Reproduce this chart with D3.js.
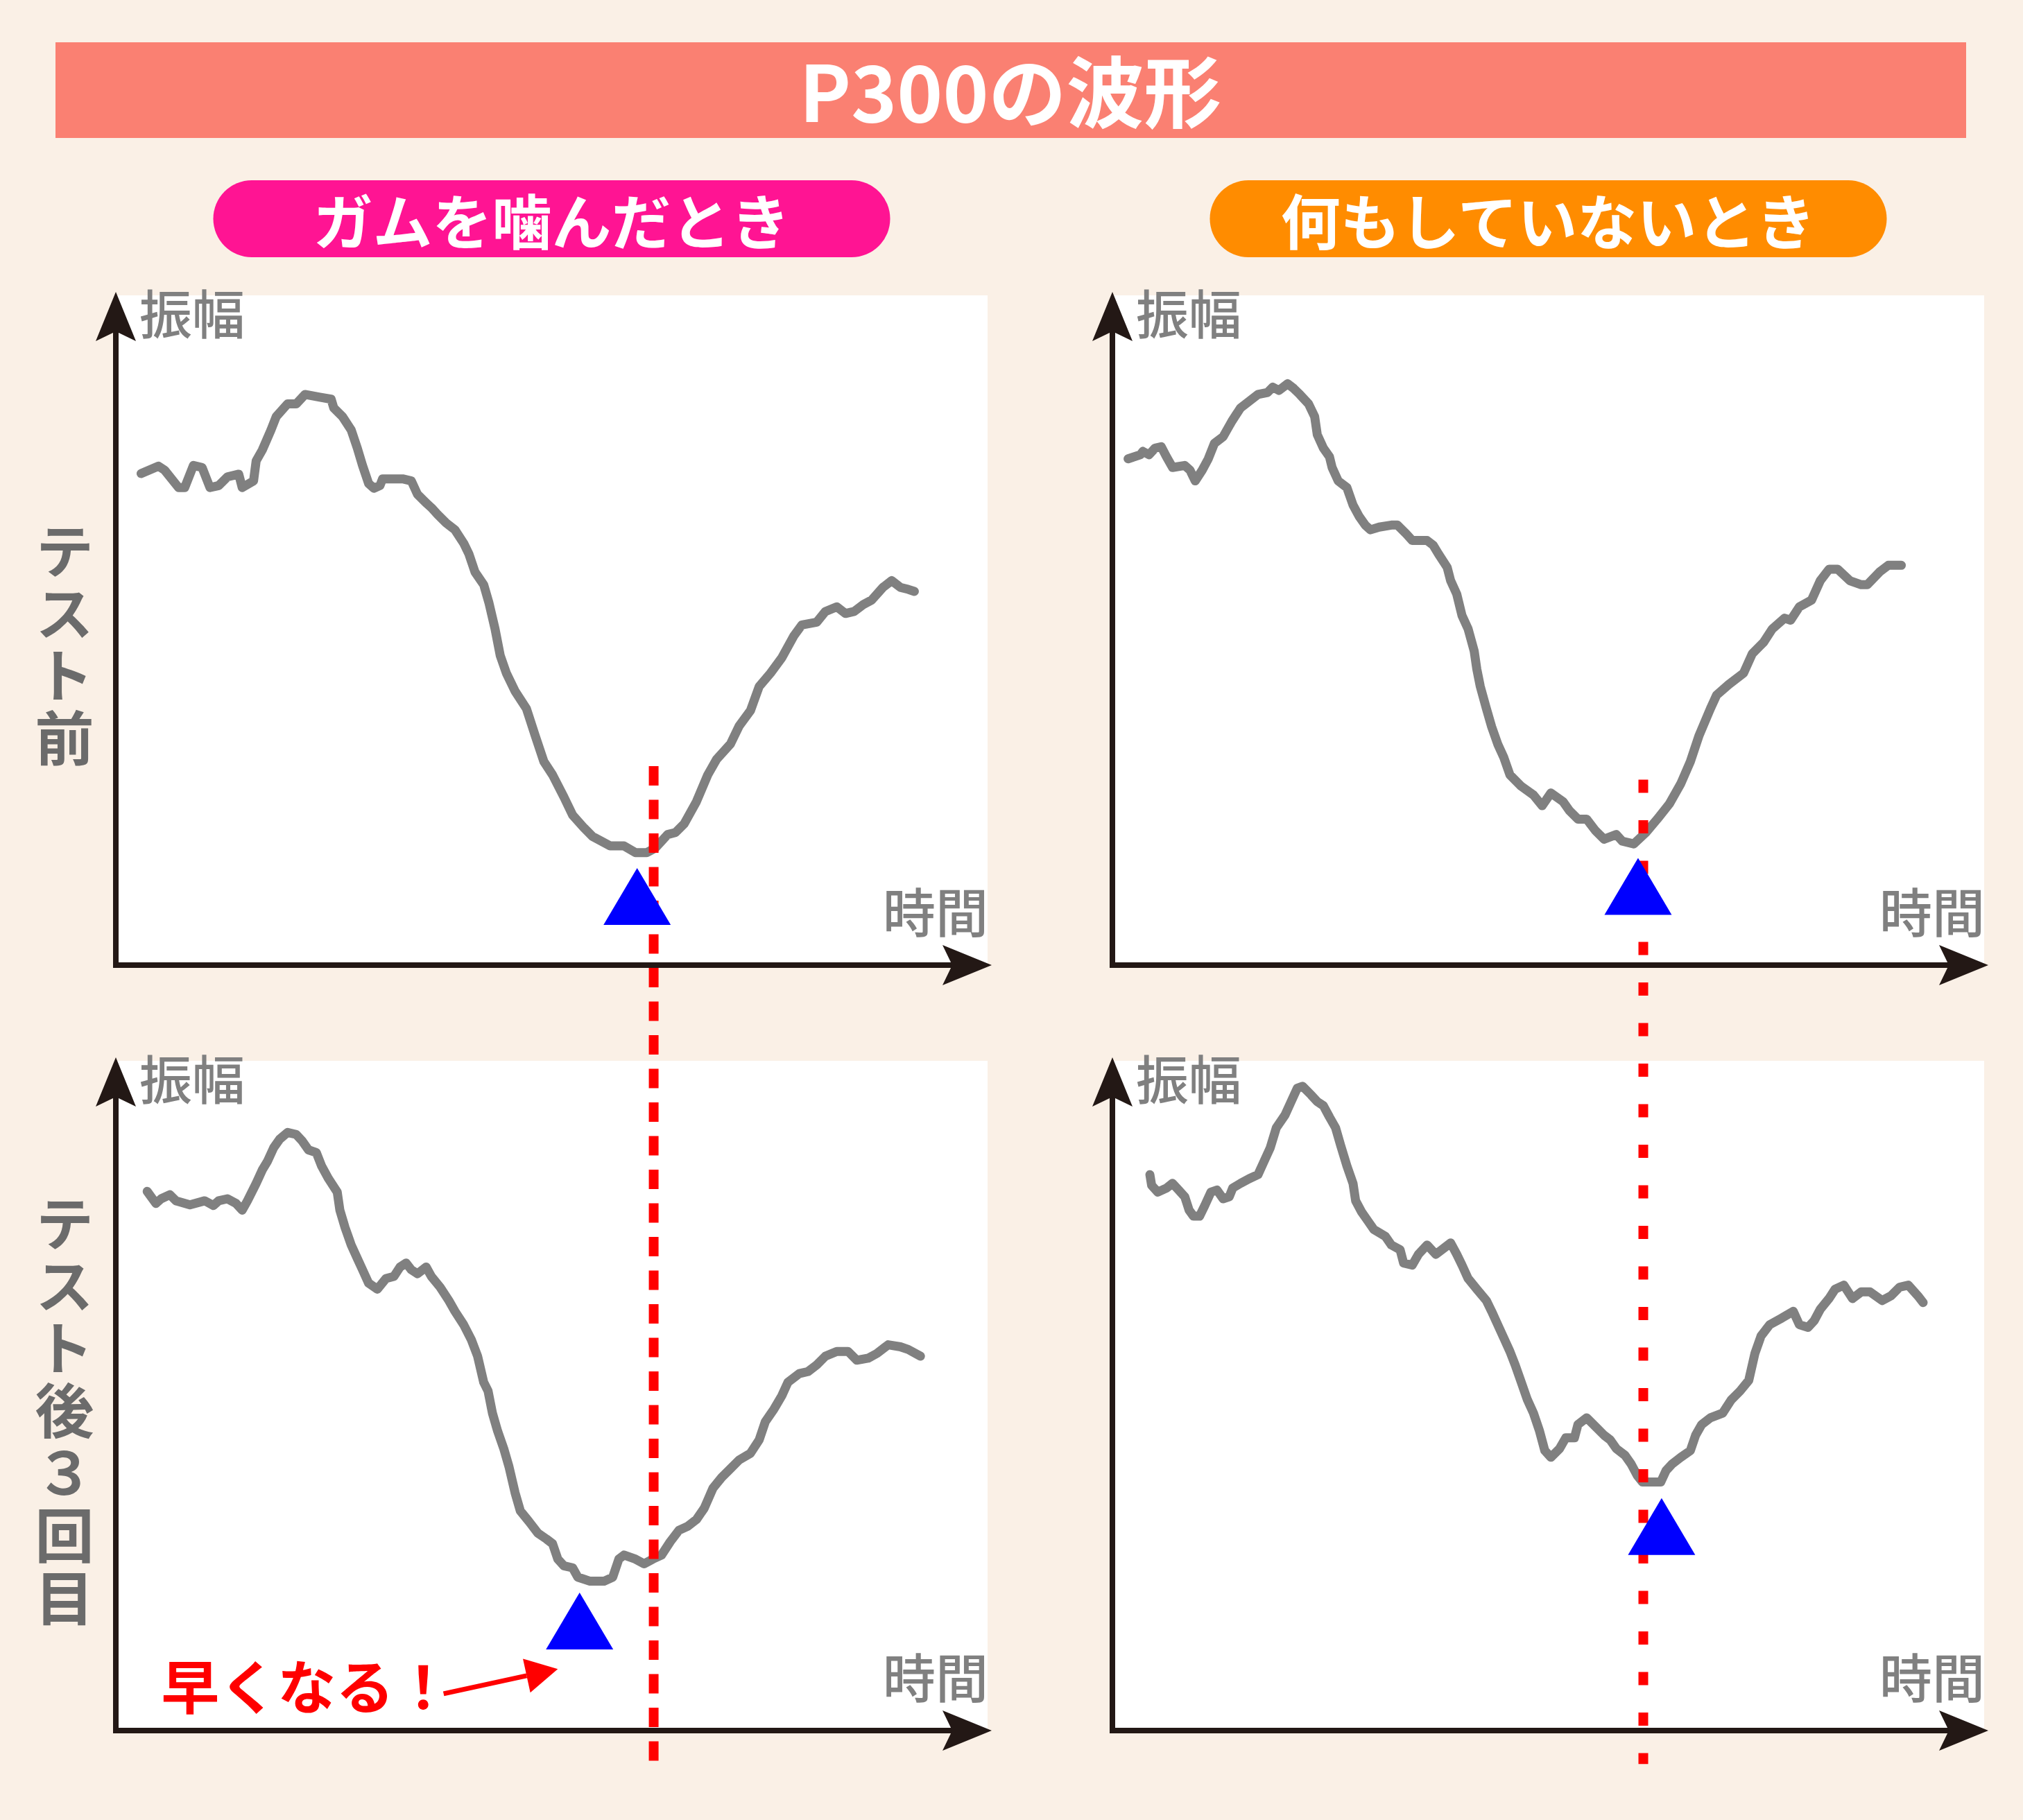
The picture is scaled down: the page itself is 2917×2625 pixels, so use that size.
<!DOCTYPE html>
<html><head><meta charset="utf-8">
<script src="https://cdn.jsdelivr.net/npm/d3@7"></script>
<style>html,body{margin:0;padding:0;background:#FAF0E6;} svg{display:block;}</style>
</head><body>
<svg id="chart" width="2917" height="2625"></svg>
<script>
// ---------- data ----------
const chartTitle = "P300の波形";
const conditions = ["ガムを噛んだとき", "何もしていないとき"];
const sessions = ["テスト前", "テスト後３回目"];
const yLabel = "振幅";
const xLabel = "時間";

// [time, amplitude] (arbitrary units 0-100)
const gumBefore = [[2.9,73.4],[4.9,74.5],[5.6,73.9],[7.2,71.3],[7.9,71.3],[8.9,74.6],[9.9,74.3],[10.8,71.3],[11.8,71.6],[12.8,72.9],[14.1,73.3],[14.5,71.3],[15.8,72.3],[16.1,75.3],[16.8,76.9],[17.8,79.9],[18.4,81.9],[19.7,83.8],[20.7,83.8],[21.7,85.2],[23.4,84.8],[24.7,84.5],[25.0,83.2],[26.0,81.9],[27.0,79.9],[27.7,77.2],[28.3,74.6],[29.0,71.9],[29.6,71.2],[30.3,71.6],[30.6,72.6],[32.9,72.6],[33.9,72.3],[34.6,70.3],[35.6,69.0],[36.2,68.3],[36.9,67.3],[37.9,66.0],[38.9,65.0],[39.9,63.0],[40.5,61.4],[41.2,58.7],[42.2,56.8],[42.8,54.1],[43.5,50.2],[44.1,46.2],[44.8,43.6],[45.8,40.9],[47.1,38.3],[48.1,34.3],[49.1,30.4],[50.1,28.4],[51.4,25.1],[52.4,22.4],[53.7,20.5],[54.7,19.2],[56.7,17.8],[58.3,17.8],[59.6,16.8],[60.9,16.8],[61.9,17.5],[63.3,19.5],[64.2,19.8],[65.2,21.1],[66.6,24.4],[67.9,28.4],[68.9,30.7],[70.5,33.0],[71.5,35.7],[72.8,38.0],[73.8,41.6],[75.1,43.6],[76.4,45.9],[77.8,49.2],[78.7,50.8],[80.4,51.2],[81.4,52.8],[82.7,53.5],[83.7,52.5],[84.7,52.8],[85.7,53.8],[86.7,54.5],[88.0,56.4],[89.0,57.4],[90.0,56.4],[90.9,56.1],[91.6,55.8]];

const restBefore = [[1.8,75.6],[3.2,76.2],[3.5,76.7],[4.2,76.2],[4.9,77.2],[5.6,77.4],[6.2,75.9],[6.9,74.3],[8.3,74.6],[8.9,73.9],[9.5,72.3],[10.3,73.9],[11.0,75.6],[11.7,77.9],[12.7,78.9],[13.7,81.2],[14.7,83.2],[15.7,84.2],[16.7,85.2],[17.8,85.5],[18.4,86.3],[19.1,85.8],[20.1,86.8],[20.8,86.1],[21.5,85.2],[22.5,83.8],[23.2,81.9],[23.5,79.2],[24.2,77.2],[24.9,75.9],[25.2,74.3],[25.9,72.3],[26.9,71.3],[27.6,68.7],[28.3,67.0],[29.0,65.7],[29.6,65.0],[30.6,65.4],[32.0,65.7],[32.7,65.7],[33.7,64.4],[34.4,63.4],[36.1,63.4],[36.8,62.7],[37.4,61.4],[38.4,59.4],[38.8,57.4],[39.5,55.4],[40.1,52.2],[40.8,50.2],[41.5,46.9],[41.8,44.2],[42.2,41.6],[42.9,38.3],[43.5,35.6],[44.2,33.0],[44.9,31.0],[45.6,28.4],[46.9,26.7],[48.3,25.4],[49.3,23.8],[50.3,25.7],[51.7,24.4],[52.4,23.1],[53.4,21.8],[54.4,21.8],[55.4,20.1],[56.4,18.8],[57.8,19.5],[58.5,18.5],[59.8,18.1],[61.2,19.8],[62.5,21.8],[63.9,24.1],[65.2,27.1],[66.3,30.4],[67.3,34.3],[68.6,38.3],[69.3,40.3],[70.7,41.9],[72.4,43.6],[73.4,46.5],[74.7,48.2],[75.7,50.2],[77.1,51.8],[77.8,51.5],[78.8,53.5],[80.2,54.5],[81.2,57.4],[82.2,59.1],[83.2,59.1],[84.6,57.4],[85.9,56.8],[86.6,56.8],[88.0,58.7],[89.0,59.7],[90.5,59.7]];

const gumAfter = [[3.6,80.5],[4.6,78.7],[5.2,79.4],[6.2,80.0],[6.9,79.1],[8.5,78.5],[10.2,79.1],[11.2,78.4],[11.8,79.1],[12.8,79.4],[13.8,78.7],[14.5,77.7],[15.1,79.1],[16.1,81.7],[16.8,83.7],[17.4,85.0],[18.1,87.0],[18.8,88.3],[19.7,89.3],[20.7,89.0],[21.4,88.0],[22.1,86.7],[23.0,86.3],[23.6,84.3],[24.4,82.4],[25.4,80.4],[25.7,77.7],[26.3,75.1],[27.0,72.5],[27.7,70.5],[28.3,68.8],[29.0,66.8],[30.0,65.9],[31.0,67.5],[31.9,67.8],[32.6,69.2],[33.3,69.8],[33.9,68.8],[34.6,68.2],[35.6,69.2],[36.2,67.8],[37.2,66.2],[38.2,64.2],[38.9,62.6],[39.9,60.6],[40.8,58.3],[41.5,55.9],[42.2,52.0],[42.7,50.7],[43.2,47.4],[43.8,44.7],[44.5,42.1],[45.1,39.4],[45.8,35.5],[46.4,32.8],[47.4,31.2],[48.4,29.5],[49.4,28.6],[50.1,27.9],[50.7,25.6],[51.4,24.6],[52.4,24.3],[53.0,22.9],[54.4,22.3],[56.0,22.3],[57.0,22.9],[57.7,25.6],[58.3,26.2],[59.6,25.6],[60.6,24.9],[61.6,25.6],[62.6,26.2],[63.6,28.2],[64.6,29.9],[65.6,30.5],[66.6,31.5],[67.5,33.2],[68.5,36.2],[69.5,37.8],[70.5,39.1],[71.5,40.4],[72.8,41.4],[73.8,43.4],[74.5,46.1],[75.5,48.0],[76.4,50.0],[77.1,52.0],[78.4,53.3],[79.4,53.6],[80.4,54.6],[81.4,55.9],[82.7,56.6],[84.0,56.6],[85.0,55.3],[86.3,55.6],[87.3,56.3],[88.6,57.6],[90.0,57.3],[90.9,56.9],[92.3,55.9]];

const restAfter = [[4.3,83.0],[4.5,81.4],[5.2,80.4],[6.2,81.0],[6.9,81.7],[7.6,80.7],[8.3,79.7],[8.8,77.7],[9.3,76.8],[10.0,76.8],[10.6,78.4],[11.3,80.4],[12.0,80.7],[12.7,79.4],[13.4,79.7],[13.8,81.0],[14.7,81.7],[15.7,82.4],[16.7,83.0],[17.4,85.0],[18.1,87.0],[18.8,90.0],[19.8,91.9],[20.5,93.9],[21.2,95.9],[21.8,96.2],[22.8,94.9],[23.5,93.9],[24.2,93.3],[24.9,91.6],[25.6,90.0],[26.2,87.3],[26.9,84.3],[27.6,81.7],[27.9,79.1],[28.6,77.4],[29.3,76.1],[30.0,74.8],[31.3,73.8],[32.0,72.5],[33.0,71.8],[33.4,69.8],[34.4,69.5],[35.1,71.1],[36.1,72.5],[37.1,71.1],[38.1,72.1],[38.8,72.8],[39.5,71.1],[40.1,69.5],[40.8,67.5],[41.8,65.9],[42.9,64.2],[43.5,62.6],[44.2,60.6],[44.9,58.6],[45.6,56.6],[46.2,54.6],[46.9,52.0],[47.6,49.4],[48.3,47.4],[49.0,44.7],[49.6,41.8],[50.3,40.8],[51.3,42.1],[52.0,43.7],[53.0,43.7],[53.4,45.7],[54.4,46.7],[55.4,45.4],[56.4,44.1],[57.1,43.4],[57.8,42.1],[58.8,41.1],[59.5,39.8],[60.2,38.1],[60.8,37.1],[62.9,37.1],[63.5,38.8],[64.2,39.8],[65.2,40.8],[66.3,41.8],[66.9,44.1],[67.6,45.7],[68.6,46.7],[70.0,47.4],[71.0,49.4],[72.0,50.7],[73.0,52.3],[73.7,56.3],[74.4,58.9],[75.4,60.6],[76.8,61.6],[78.1,62.6],[78.8,60.6],[79.8,60.2],[80.5,61.2],[81.2,62.9],[82.2,64.5],[82.9,65.9],[83.9,66.5],[84.9,64.5],[85.9,65.5],[86.9,65.5],[88.3,64.2],[89.3,64.9],[90.3,66.2],[91.3,66.5],[92.4,64.9],[93.0,63.9]];

// P300 peak markers, order: gumBefore, restBefore, gumAfter, restAfter
const peakTime = [59.8, 60.3, 53.2, 63.0];
const peakAmp  = [14.5, 16.0, 20.6, 34.7];
// reference latency line per condition (time), start amplitude in top panel, end amplitude in bottom panel
const refTime = [61.7, 60.9];
const refStartAmp = [29.7, 27.7];
const refEndAmp = [-5, -5];
// annotation (bottom-left panel)
const noteText = "早くなる！";
const notePos = [5.2, 3.2];
const noteArrowFrom = [37.6, 5.5];
const noteArrowTo = [50.7, 9.2];

// ---------- layout / style ----------
const W = 2917, H = 2625;
const colX = [167, 1604];
const rowY = [426, 1530];
const PW = 1257, PH = 966;
const fontCJK = "'Noto Sans CJK JP','Noto Sans',sans-serif";
const condColors = ["#FF1493", "#FF8C00"];
const axisColor = "#231815";
const series = [[gumBefore, restBefore], [gumAfter, restAfter]];

const svg = d3.select("#chart");
svg.append("rect").attr("width", W).attr("height", H).attr("fill", "#FAF0E6");

// title bar
svg.append("rect").attr("x", 80).attr("y", 61).attr("width", 2755).attr("height", 138).attr("fill", "#FA8072");
svg.append("text").attr("x", 1457).attr("y", 127).attr("text-anchor", "middle")
  .attr("dominant-baseline", "central").attr("fill", "#fff")
  .attr("font-family", fontCJK).attr("font-weight", 700).attr("font-size", 112)
  .text(chartTitle);

// condition pills
conditions.forEach((c, i) => {
  const cx = colX[i] + PW / 2;
  svg.append("rect").attr("x", cx - 488).attr("y", 260).attr("width", 976).attr("height", 111)
    .attr("rx", 55.5).attr("fill", condColors[i]);
  svg.append("text").attr("x", cx).attr("y", 315).attr("text-anchor", "middle")
    .attr("dominant-baseline", "central").attr("fill", "#fff")
    .attr("font-family", fontCJK).attr("font-weight", 700).attr("font-size", 86)
    .text(c);
});

// session labels (vertical)
const sessionTops = [752, 1722];
sessions.forEach((s, r) => {
  svg.append("text")
    .attr("x", 93).attr("y", sessionTops[r])
    .style("writing-mode", "vertical-rl").style("text-orientation", "upright")
    .style("letter-spacing", "5px")
    .attr("fill", "#6b6b6b").attr("font-family", fontCJK).attr("font-weight", 700)
    .attr("font-size", 85).text(s);
});

const scales = [];
for (let r = 0; r < 2; r++) {
  scales.push([]);
  for (let c = 0; c < 2; c++) {
    const x = d3.scaleLinear().domain([0, 100]).range([colX[c], colX[c] + PW]);
    const y = d3.scaleLinear().domain([0, 100]).range([rowY[r] + PH, rowY[r]]);
    scales[r].push({ x, y });
    const g = svg.append("g");
    g.append("rect").attr("x", x(0)).attr("y", y(100)).attr("width", x(100) - x(0))
      .attr("height", y(0) - y(100)).attr("fill", "#fff");
    // axis labels
    g.append("text").attr("x", x(0) + 34).attr("y", y(100) + 23).attr("dominant-baseline", "central")
      .attr("fill", "#808080").attr("font-family", fontCJK).attr("font-weight", 500)
      .attr("font-size", 76).text(yLabel);
    g.append("text").attr("x", x(100) + 1).attr("y", y(100) + 886).attr("text-anchor", "end")
      .attr("dominant-baseline", "central")
      .attr("fill", "#808080").attr("font-family", fontCJK).attr("font-weight", 500)
      .attr("font-size", 76).text(xLabel);
    // waveform
    const line = d3.line().x(d => x(d[0])).y(d => y(d[1]));
    g.append("path").datum(series[r][c]).attr("d", line).attr("fill", "none")
      .attr("stroke", "#808080").attr("stroke-width", 13)
      .attr("stroke-linejoin", "round").attr("stroke-linecap", "round");
    // axes
    const top = y(100) - 5, right = x(100) + 6, x0 = x(0), y0 = y(0);
    const AL = 71, AH = 29, AN = 14;
    g.append("path").attr("d", `M${x0},${top + AL - AN} L${x0},${y0} L${right - AL + AN},${y0}`)
      .attr("fill", "none").attr("stroke", axisColor).attr("stroke-width", 8)
      .attr("stroke-linejoin", "miter");
    g.append("path").attr("d", `M${x0},${top} L${x0 + AH},${top + AL} L${x0},${top + AL - AN} L${x0 - AH},${top + AL} Z`)
      .attr("fill", axisColor);
    g.append("path").attr("d", `M${right},${y0} L${right - AL},${y0 - AH} L${right - AL + AN},${y0} L${right - AL},${y0 + AH} Z`)
      .attr("fill", axisColor);
  }
}

// reference latency lines
const dashes = ["28 20.5", "19 39.5"];
for (let c = 0; c < 2; c++) {
  const sx = scales[0][c].x;
  svg.append("line")
    .attr("x1", sx(refTime[c])).attr("x2", sx(refTime[c]))
    .attr("y1", scales[0][c].y(refStartAmp[c])).attr("y2", scales[1][c].y(refEndAmp[c]))
    .attr("stroke", "#FF0000").attr("stroke-width", 14).attr("stroke-dasharray", dashes[c]);
}

// peak triangles
const TW = 97, TH = 82;
peakTime.forEach((t, i) => {
  const r = Math.floor(i / 2), c = i % 2;
  const px = scales[r][c].x(t), py = scales[r][c].y(peakAmp[i]);
  svg.append("path").attr("d", `M${px},${py} L${px + TW / 2},${py + TH} L${px - TW / 2},${py + TH} Z`)
    .attr("fill", "#0000FF");
});

// annotation
{
  const { x, y } = scales[1][0];
  svg.append("text").attr("x", x(notePos[0])).attr("y", y(notePos[1]))
    .attr("fill", "#FF0000").attr("font-family", fontCJK).attr("font-weight", 700)
    .attr("font-size", 84).text(noteText);
  const ax1 = x(noteArrowFrom[0]), ay1 = y(noteArrowFrom[1]);
  const ax2 = x(noteArrowTo[0]), ay2 = y(noteArrowTo[1]);
  const len = Math.hypot(ax2 - ax1, ay2 - ay1);
  const ux = (ax2 - ax1) / len, uy = (ay2 - ay1) / len;
  const bx = ax2 - 46 * ux, by = ay2 - 46 * uy;
  svg.append("line").attr("x1", ax1).attr("y1", ay1).attr("x2", bx).attr("y2", by)
    .attr("stroke", "#FF0000").attr("stroke-width", 7);
  svg.append("path").attr("d", `M${ax2},${ay2} L${bx - 25 * uy},${by + 25 * ux} L${bx + 25 * uy},${by - 25 * ux} Z`)
    .attr("fill", "#FF0000");
}
</script>
</body></html>
